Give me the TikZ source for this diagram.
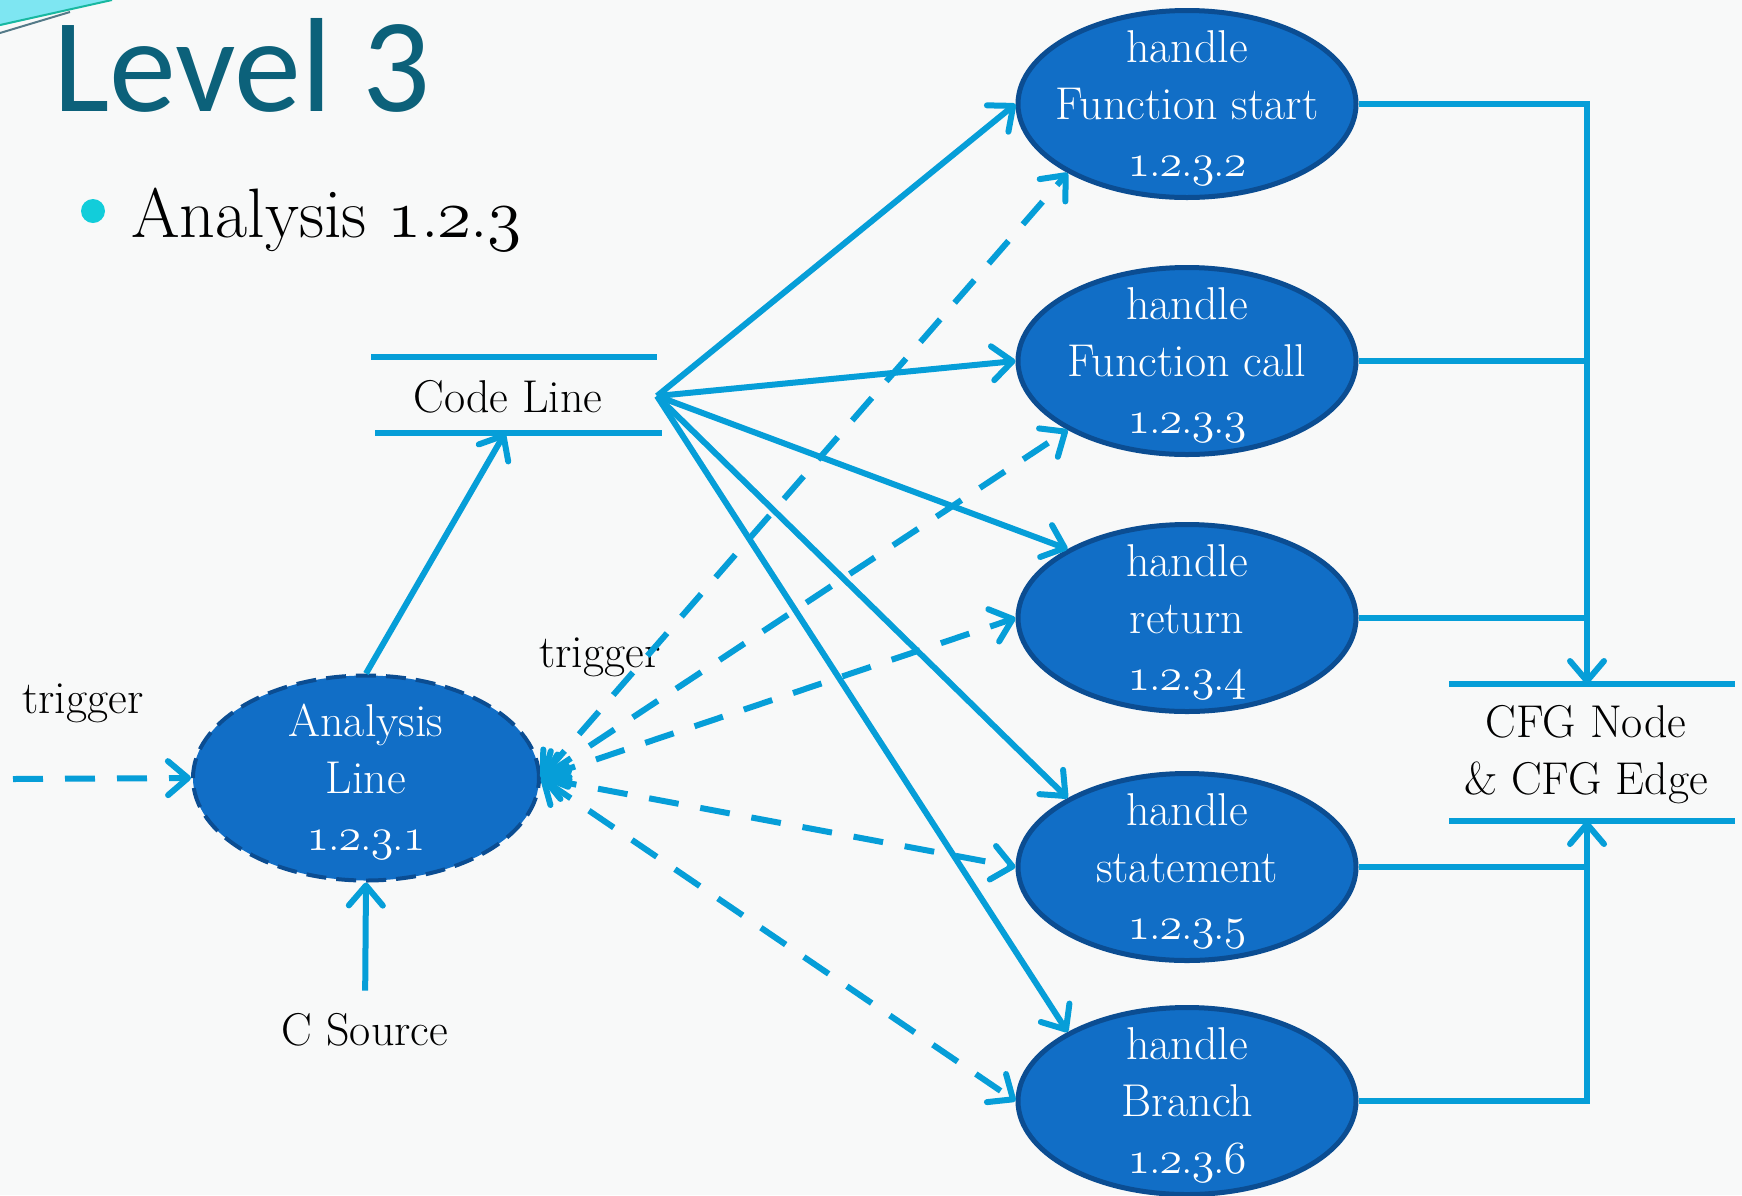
\documentclass[tikz,border=0pt]{standalone}
\usepackage{graphicx}
\usepackage{fontspec}
\newfontfamily\titlefont{Carlito}
\usetikzlibrary{arrows.meta,shapes.geometric,calc}

% old-style figures from the Computer Modern math italic font, scaled up
\newcommand\osd[2][1.85]{\scalebox{#1}{\fontsize{24.88}{30}\usefont{OML}{cmm}{m}{it}#2}}
\newcommand\secnum[4]{\osd{#1}\kern-1pt.\kern-1pt\osd{#2}\kern-1pt.\kern-1pt\osd{#3}\kern-1pt.\kern-1pt\osd{#4}}

\definecolor{flow}{RGB}{6,158,216}
\definecolor{bubble}{RGB}{17,110,198}
\definecolor{rim}{RGB}{11,77,146}
\definecolor{heading}{RGB}{12,97,122}
\definecolor{dotcol}{RGB}{18,205,218}
\definecolor{paper}{RGB}{248,249,249}
\definecolor{swoosh}{RGB}{126,230,242}
\definecolor{swooshline}{RGB}{24,184,160}
\definecolor{swooshgray}{RGB}{84,122,136}

\tikzset{
  flowline/.style={draw=flow, line width=6pt},
  dashflow/.style={flowline, dash pattern=on 30pt off 22pt},
  tipend/.style={-{Straight Barb[length=20pt,width=34pt,round]}},
  tipboth/.style={{Straight Barb[length=20pt,width=34pt,round]}-{Straight Barb[length=20pt,width=34pt,round]}},
  handlebox/.style={ellipse, fill=bubble, draw=rim, line width=5pt,
    minimum width=338pt, minimum height=187pt, inner sep=0pt},
  linebox/.style={ellipse, fill=bubble, draw=rim, line width=4pt,
    dash pattern=on 20pt off 10pt, minimum width=346pt, minimum height=205pt, inner sep=0pt},
  intext/.style={text=white, align=center, inner sep=0pt, yshift=-4pt,
    font=\fontsize{46}{57}\selectfont},
  lbl/.style={text=black, inner sep=0pt, font=\fontsize{46}{57}\selectfont},
}

\begin{document}
\begin{tikzpicture}[x=1pt,y=-1pt]
\useasboundingbox (0,0) rectangle (1742,1195);
\fill[paper] (0,0) rectangle (1742,1195);

% corner ornament
\fill[swoosh] (0,0) -- (112,0) -- (0,26) -- cycle;
\draw[swooshline, line width=2pt] (0,25) -- (112,0);
\draw[swooshgray, line width=2pt] (0,33) -- (70,12);

% heading and bullet
\node[anchor=base west, inner sep=0pt, text=heading,
  font=\titlefont\fontsize{134}{140}\selectfont] (title) at (53,111) {Level 3};
\node[circle, fill=dotcol, minimum size=24pt, inner sep=0pt] (bullet) at (93,211) {};
\node[anchor=base west, inner sep=0pt, font=\fontsize{70}{76}\selectfont]
  (sub) at (131,237) {Analysis \osd[2.8]{1}\kern-1pt.\kern-1pt\osd[2.8]{2}\kern-1pt.\kern-1pt\osd[2.8]{3}};

% process bubbles
\node[handlebox] (fs) at (1187,104) {};
\node[handlebox] (fc) at (1187,361) {};
\node[handlebox] (rt) at (1187,618) {};
\node[handlebox] (st) at (1187,867) {};
\node[handlebox] (br) at (1187,1101) {};
\node[linebox] (al) at (366,778) {};

% data stores
\coordinate (clTL) at (371,357); \coordinate (clTR) at (657,357);
\coordinate (clBL) at (375,433); \coordinate (clBR) at (662,433);
\draw[flowline] (clTL) -- (clTR);
\draw[flowline] (clBL) -- (clBR);
\node[lbl, anchor=base] (cl) at (508,412) {Code Line};
\coordinate (clOut) at (657,396);
\coordinate (clIn) at (505,433);

\coordinate (cfgTL) at (1449,684); \coordinate (cfgTR) at (1735,684);
\coordinate (cfgBL) at (1449,821); \coordinate (cfgBR) at (1735,821);
\draw[flowline] (cfgTL) -- (cfgTR);
\draw[flowline] (cfgBL) -- (cfgBR);
\node[lbl, align=center] (cfg) at (1586,755) {CFG Node\\\& CFG Edge};
\coordinate (cfgIn) at (1587,684);
\coordinate (cfgUp) at (1587,821);

% external labels
\node[lbl, anchor=base] (src) at (365,1045) {C Source};
\node[lbl, anchor=base] (trigL) at (83,713) {trigger};
\node[lbl, anchor=base] (trigM) at (600,667) {trigger};
\coordinate (trigIn) at (13,779);

% trigger flows
\draw[dashflow, tipend] (trigIn) -- (al.west);
\draw[dashflow, tipboth] (al.east) -- (fs.210);
\draw[dashflow, tipboth] (al.east) -- (fc.210);
\draw[dashflow, tipboth] (al.east) -- (rt.west);
\draw[dashflow, tipboth] (al.east) -- (st.west);
\draw[dashflow, tipboth] (al.east) -- (br.west);

% data flows
\draw[flowline, tipend, shorten <=22pt] (src.north) -- (al.south);
\draw[flowline, tipend] (al.north) -- (clIn);
\draw[flowline, tipend] (clOut) -- (fs.west);
\draw[flowline, tipend] (clOut) -- (fc.west);
\draw[flowline, tipend] (clOut) -- (rt.150);
\draw[flowline, tipend] (clOut) -- (st.150);
\draw[flowline, tipend] (clOut) -- (br.150);

\draw[flowline, tipend] (fs.east) -- (fs.east -| cfgIn) -- (cfgIn);
\draw[flowline] (fc.east) -- (fc.east -| cfgIn);
\draw[flowline] (rt.east) -- (rt.east -| cfgIn);
\draw[flowline, tipend] (br.east) -- (br.east -| cfgUp) -- (cfgUp);
\draw[flowline] (st.east) -- (st.east -| cfgUp);

% bubble texts
\node[intext] (fsT) at (fs) {handle\\Function start\\\secnum{1}{2}{3}{2}};
\node[intext] (fcT) at (fc) {handle\\Function call\\\secnum{1}{2}{3}{3}};
\node[intext] (rtT) at (rt) {handle\\return\\\secnum{1}{2}{3}{4}};
\node[intext] (stT) at (st) {handle\\statement\\\secnum{1}{2}{3}{5}};
\node[intext] (brT) at (br) {handle\\Branch\\\secnum{1}{2}{3}{6}};
\node[intext] (alT) at (al) {Analysis\\Line\\\secnum{1}{2}{3}{1}};
\end{tikzpicture}
\end{document}
